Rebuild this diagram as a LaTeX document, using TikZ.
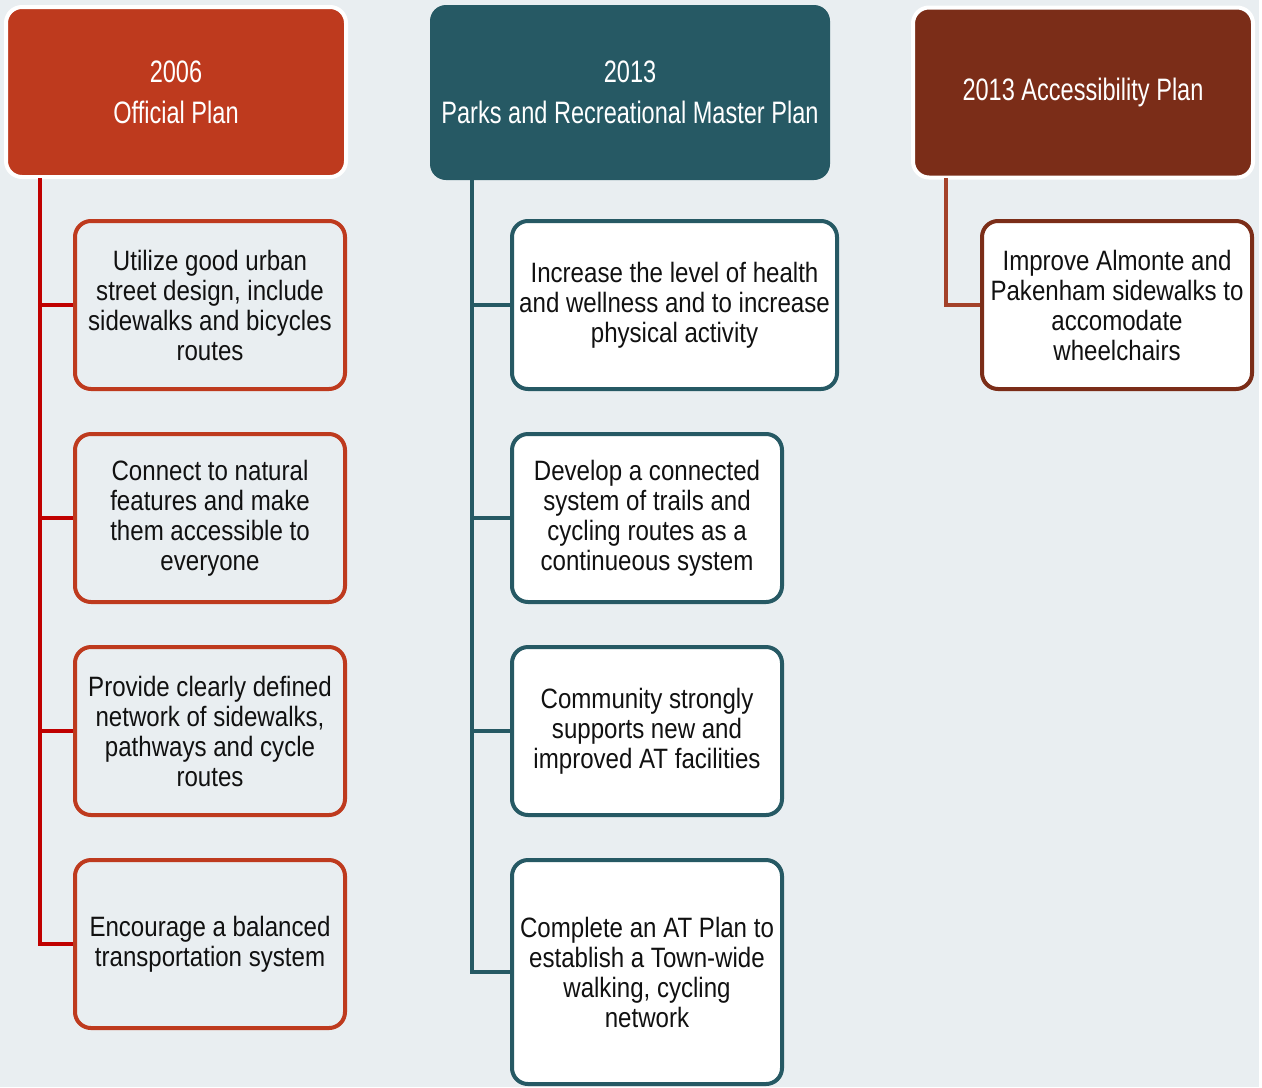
\documentclass[tikz,border=0pt]{standalone}
\usepackage{fontspec}
\setmainfont{Liberation Sans}[FakeStretch=0.86]
\newfontfamily\headfont{Liberation Sans}[FakeStretch=0.76]
\definecolor{planred}{HTML}{BE3A1E}
\definecolor{linered}{HTML}{C00000}
\definecolor{planteal}{HTML}{265964}
\definecolor{planbrown}{HTML}{7B2D18}
\definecolor{linebrown}{HTML}{A3412A}
\definecolor{paper}{HTML}{E9EEF1}
\definecolor{ink}{HTML}{111111}

\begin{document}
\begin{tikzpicture}[x = 0.5pt, y = -0.5pt, every node/.style = {rectangle, rounded corners = 8pt, align = center},
	header/.style = {draw = white, line width = 2pt, text = white, minimum width = 170pt, minimum height = 85pt, font = \headfont\fontsize{15.5}{20.5}\selectfont},
	goal/.style = {fill = white, line width = 2pt, text = ink, minimum width = 135pt, minimum height = 84pt, font = \fontsize{14}{15}\selectfont},
	trunk/.style = {line width = 2pt}]

	\fill[white] (0,0) rectangle (1262,1087);
	\fill[paper] (0,0) rectangle (1259,1087);
	\useasboundingbox (0,0) rectangle (1262,1087);

	\node (ofp) at ( 176, 92) [header, fill = planred] {2006\\Official Plan};
	\node (prm) at ( 630, 92.5) [header, fill = planteal, draw = none, minimum width = 200pt, minimum height = 87.5pt] {2013\\Parks and Recreational Master Plan};
	\node (acc) at (1083, 92.5) [header, fill = planbrown] {2013 Accessibility Plan};

	\node (ofp1) at ( 210, 305) [goal, draw = planred, fill = paper] {Utilize good urban\\street design, include\\sidewalks and bicycles\\routes};
	\node (ofp2) at ( 210, 518) [goal, draw = planred, fill = paper] {Connect to natural\\features and make\\them accessible to\\everyone};
	\node (ofp3) at ( 210, 731) [goal, draw = planred, fill = paper] {Provide clearly defined\\network of sidewalks,\\pathways and cycle\\routes};
	\node (ofp4) at ( 210, 944) [goal, draw = planred, fill = paper] {Encourage a balanced\\transportation system};

	\node (prm1) at ( 674.5, 305) [goal, draw = planteal, minimum width = 162.5pt] {Increase the level of health\\and wellness and to increase\\physical activity};
	\node (prm2) at ( 647, 518) [goal, draw = planteal] {Develop a connected\\system of trails and\\cycling routes as a\\continueous system};
	\node (prm3) at ( 647, 731) [goal, draw = planteal] {Community strongly\\supports new and\\improved AT facilities};
	\node (prm4) at ( 647, 972) [goal, draw = planteal, minimum height = 112pt] {Complete an AT Plan to\\establish a Town-wide\\walking, cycling\\network};

	\node (acc1) at (1117, 305) [goal, draw = planbrown] {Improve Almonte and\\Pakenham sidewalks to\\accomodate\\wheelchairs};

	\coordinate (ofptop) at ( 40, 178);
	\coordinate (prmtop) at (472, 180);
	\coordinate (acctop) at (946, 178);

	\foreach \from/\col/\to in {ofptop/linered/ofp1, ofptop/linered/ofp2, ofptop/linered/ofp3, ofptop/linered/ofp4, prmtop/planteal/prm1, prmtop/planteal/prm2, prmtop/planteal/prm3, prmtop/planteal/prm4, acctop/linebrown/acc1}
		\draw[trunk, \col] (\from) |- (\to.west);
\end{tikzpicture}
\end{document}
